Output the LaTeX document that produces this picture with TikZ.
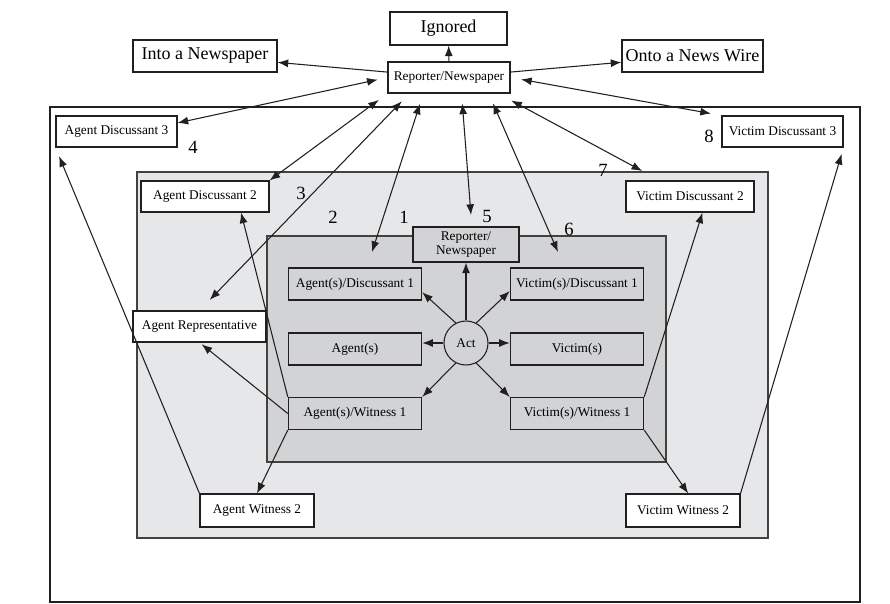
\documentclass[tikz,border=0pt]{standalone}
\usepackage{fontspec}
\setmainfont{Liberation Serif}
\usetikzlibrary{arrows.meta}
\definecolor{ink}{RGB}{35,31,32}
\definecolor{outgray}{RGB}{230,231,232}
\definecolor{ingray}{RGB}{209,211,212}
\tikzset{
  box/.style={draw=ink, line width=0.8pt, fill=white, inner sep=0pt, minimum height=23.25pt, font=\fontsize{10}{10}\selectfont},
  bigbox/.style={box, minimum height=24pt, font=\fontsize{13.5}{15}\selectfont},
  actbox/.style={box, fill=ingray, minimum width=100pt, minimum height=24pt},
  num/.style={font=\fontsize{14}{16}\selectfont, inner sep=0pt},
  arr/.style={draw=ink, line width=0.8pt, -{Latex[length=8pt,width=6pt]}},
  dbl/.style={arr, {Latex[length=8pt,width=6pt]}-{Latex[length=8pt,width=6pt]}},
}
\begin{document}
\begin{tikzpicture}[x=0.75pt,y=-0.75pt]
\useasboundingbox (0,0) rectangle (890,604);
% the three fields
\draw[ink, line width=1.5pt] (50,107) rectangle (860,602);
\draw[draw=ink!85, fill=outgray, line width=1pt] (137,172) rectangle (768,538);
\draw[draw=ink!85, fill=ingray, line width=1pt] (267,236) rectangle (666,462);

% outlets
\node[bigbox, minimum width=87.75pt, minimum height=24.75pt] (ign) at (448.5,28.5) {Ignored};
\node[bigbox, minimum width=108pt] (into) at (205,56) {Into a Newspaper};
\node[bigbox, minimum width=105.75pt] (onto) at (692.5,56) {Onto a News Wire};
\node[box, minimum width=91.5pt] (rep) at (449,77.5) {Reporter/Newspaper};

% discussants, witnesses
\node[box, minimum width=90.75pt] (ad3) at (116.5,131.5) {Agent Discussant 3};
\node[box, minimum width=90.75pt] (vd3) at (782.5,131.5) {Victim Discussant 3};
\node[box, minimum width=96pt] (ad2) at (205,196.5) {Agent Discussant 2};
\node[box, minimum width=96pt] (vd2) at (690,196.5) {Victim Discussant 2};
\node[box, minimum width=99.75pt] (arep) at (199.5,326.5) {Agent Representative};
\node[box, minimum width=85.5pt, minimum height=24.75pt] (aw2) at (257,510.5) {Agent Witness 2};
\node[box, minimum width=85.5pt, minimum height=24.75pt] (vw2) at (683,510.5) {Victim Witness 2};

% the act
\node[box, fill=ingray, minimum width=79.5pt, minimum height=26.25pt, align=center] (irep) at (466,244.5) {Reporter/\\Newspaper};
\node[actbox] (agd1) at (355,284) {Agent(s)/Discussant 1};
\node[actbox] (vid1) at (577,284) {Victim(s)/Discussant 1};
\node[actbox] (ag) at (355,349) {Agent(s)};
\node[actbox] (vi) at (577,349) {Victim(s)};
\node[actbox] (agw1) at (355,413.5) {Agent(s)/Witness 1};
\node[actbox] (viw1) at (577,413.5) {Victim(s)/Witness 1};
\node[box, fill=ingray, circle, minimum size=33pt] (act) at (466,343) {Act};

% numbers
\node[num] (n1) at (404,217) {1};
\node[num] (n2) at (333,217) {2};
\node[num] (n3) at (301,193) {3};
\node[num] (n4) at (193,147) {4};
\node[num] (n5) at (487,216) {5};
\node[num] (n6) at (569,229) {6};
\node[num] (n7) at (603,170) {7};
\node[num] (n8) at (709,136) {8};

\coordinate (c1) at (372,252);
\coordinate (c5) at (471,215);
\coordinate (c6) at (558,252);

% to the outlets
\draw[arr] (rep) -- (into);
\draw[arr] (rep) -- (onto);
\draw[arr] (rep) -- (ign);
\draw[dbl, shorten >=7.5pt] (ad3.8) -- (rep.west);
\draw[dbl, shorten <=8pt, shorten >=8pt] (rep.east) -- (vd3.north west);
\draw[dbl, shorten >=8pt] (ad2.north east) -- (rep.south west);
\draw[dbl, shorten <=11pt, shorten >=8pt] (arep.north) -- (rep.202);
\draw[dbl, shorten >=8pt] (c1) -- (rep.212);
\draw[dbl, shorten >=7.5pt] (c5) -- (rep.308);
\draw[dbl, shorten >=8pt] (c6) -- (rep.338);
\draw[dbl, shorten <=15pt, shorten >=11pt] (vd2.152) -- (rep.342);

% agent side
\draw[arr, shorten >=2pt] (agw1.west) -- (arep.south);
\draw[arr] (agw1.north west) -- (ad2.-24);
\draw[arr] (agw1.south west) -- (aw2.north);
\draw[arr, shorten >=7pt] (aw2.north west) -- (ad3.south west);

% victim side
\draw[arr] (viw1.north east) -- (vd2.-52);
\draw[arr] (viw1.south east) -- (vw2.73);
\draw[arr, shorten >=5pt] (vw2.north east) -- (vd3.south east);

% from the act
\draw[arr] (act.117) -- (agd1.-7);
\draw[arr] (act.63) -- (vid1.186);
\draw[arr] (act.243) -- (agw1.north east);
\draw[arr] (act.297) -- (viw1.north west);
\draw[arr] (act.north) -- (irep.south);
\draw[arr] (act.west) -- (act.west -| ag.east);
\draw[arr] (act.east) -- (act.east -| vi.west);
\end{tikzpicture}
\end{document}
